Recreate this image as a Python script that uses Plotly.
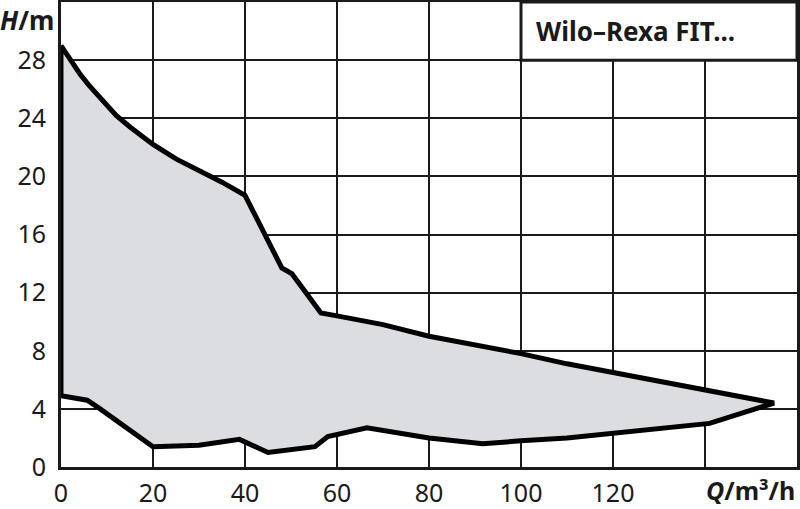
import plotly.graph_objects as go

# Upper limit curve (max head) Q in m3/h, H in m
upper_q = [0, 2, 4, 6, 8, 10, 12, 15, 18, 20, 25, 30, 35, 40, 46, 48, 50.2, 53.4, 56.5, 60, 70, 80, 90, 100, 110, 120, 130, 140, 155]
upper_h = [29.0, 28.0, 27.1, 26.3, 25.6, 24.9, 24.2, 23.4, 22.7, 22.2, 21.2, 20.4, 19.6, 18.7, 15.0, 13.7, 13.3, 12.0, 10.6, 10.4, 9.8, 9.0, 8.4, 7.8, 7.1, 6.5, 5.9, 5.3, 4.4]
# Lower limit curve (min head)
lower_q = [0, 5.7, 8.5, 20, 30, 38.8, 45, 55.2, 58, 66.5, 73.7, 80, 91.7, 100, 110, 120, 141, 155]
lower_h = [4.9, 4.6, 4.0, 1.4, 1.5, 1.9, 1.0, 1.4, 2.1, 2.7, 2.3, 2.0, 1.6, 1.8, 2.0, 2.3, 3.0, 4.4]

x_ticks = [0, 20, 40, 60, 80, 100, 120, 140]
x_tick_labels = ["0", "20", "40", "60", "80", "100", "120", ""]
y_ticks = [0, 4, 8, 12, 16, 20, 24, 28]
title_text = "Wilo–Rexa FIT..."

poly_q = upper_q + lower_q[::-1] + [upper_q[0]]
poly_h = upper_h + lower_h[::-1] + [upper_h[0]]

fig = go.Figure()
fig.add_trace(go.Scatter(
    x=poly_q, y=poly_h, mode="lines", fill="toself",
    fillcolor="#dcdde0", line=dict(color="black", width=5),
    hoverinfo="skip", showlegend=False,
))

font_family = "Noto Sans, Open Sans, sans-serif"

fig.update_layout(
    width=800, height=509,
    margin=dict(l=61, r=3, t=2, b=42),
    paper_bgcolor="white", plot_bgcolor="white",
    showlegend=False,
    font=dict(family=font_family, size=25, color="#1a1a1a"),
    xaxis=dict(
        range=[0, 160], tickvals=x_ticks, ticktext=x_tick_labels,
        showgrid=True, gridcolor="#1a1a1a", gridwidth=2,
        zeroline=False, showline=True, linecolor="#1a1a1a", linewidth=3, mirror=True,
        ticks="", ticklabelstandoff=2, layer="below traces", automargin=False,
    ),
    yaxis=dict(
        range=[0, 32], tickvals=y_ticks, showgrid=True, gridcolor="#1a1a1a", gridwidth=2,
        zeroline=False, showline=True, linecolor="#1a1a1a", linewidth=3, mirror=True,
        ticks="", ticklabelstandoff=7, layer="below traces", automargin=False,
    ),
)

# Title box
fig.add_shape(type="rect", xref="x", yref="y", x0=100, x1=160, y0=28, y1=32,
              fillcolor="white", line=dict(color="#1a1a1a", width=3), layer="above")
fig.add_annotation(x=102.8, y=30, xref="x", yref="y", text="<b>" + title_text + "</b>",
                   showarrow=False, xanchor="left", yanchor="middle",
                   font=dict(family=font_family, size=26, color="#1a1a1a"))

# Axis titles
fig.add_annotation(x=0, y=1, xref="paper", yref="paper", text="<b><i>H</i>/m</b>",
                   showarrow=False, xanchor="right", yanchor="top", xshift=-5, yshift=2,
                   font=dict(family=font_family, size=26, color="#1a1a1a"))
fig.add_annotation(x=1, y=0, xref="paper", yref="paper", text="<b><i>Q</i>/m³/h</b>",
                   showarrow=False, xanchor="right", yanchor="top", xshift=0, yshift=-4,
                   font=dict(family=font_family, size=25, color="#1a1a1a"))

fig.write_html("out.html", config={"displayModeBar": False},
               post_script="document.body.style.margin='0px';document.body.style.overflow='hidden';")
